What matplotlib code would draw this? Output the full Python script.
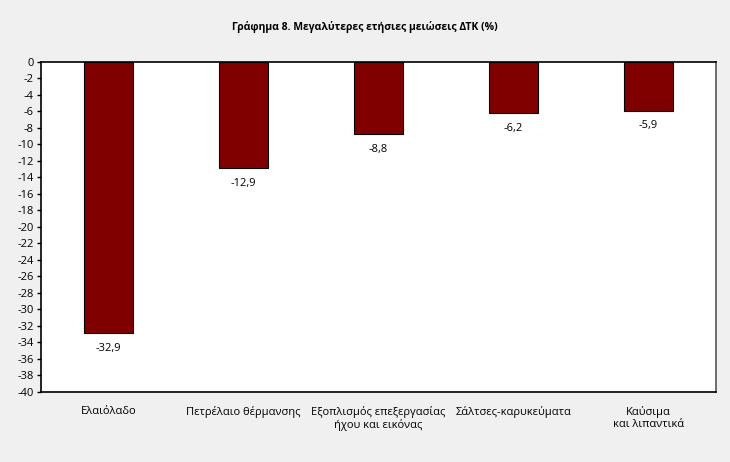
import matplotlib
matplotlib.use("Agg")
import matplotlib.pyplot as plt

plt.rcParams['font.family'] = ['Open Sans', 'DejaVu Sans']

categories = ['Ελαιόλαδο', 'Πετρέλαιο θέρμανσης', 'Εξοπλισμός επεξεργασίας\nήχου και εικόνας',
              'Σάλτσες-καρυκεύματα', 'Καύσιμα\nκαι λιπαντικά']
values = [-32.9, -12.9, -8.8, -6.2, -5.9]
yticks = list(range(0, -41, -2))

fig = plt.figure(figsize=(7.3, 4.62), dpi=100, facecolor='#f0f0f0')
ax = fig.add_axes([0.056, 0.152, 0.925, 0.714])
ax.set_facecolor('white')

x = range(len(categories))
ax.bar(x, values, width=0.36, color='#800000', edgecolor='black', linewidth=0.8, zorder=2)
for i, v in zip(x, values):
    ax.text(i, v - 1.2, f'{v:.1f}'.replace('.', ','), ha='center', va='top', fontsize=8)

ax.set_xlim(-0.5, len(categories) - 0.5)
ax.set_ylim(-40, 0)
ax.set_yticks(yticks)
ax.set_yticklabels([str(t) for t in yticks], fontsize=8)
ax.set_xticks(list(x))
ax.set_xticklabels(categories, fontsize=8)
ax.tick_params(axis='x', length=0, pad=10)
ax.tick_params(axis='y', length=3, width=1, pad=2, direction='out')

for s in ['left', 'bottom', 'top']:
    ax.spines[s].set_color('black')
    ax.spines[s].set_linewidth(1.2)
ax.spines['right'].set_color('#555555')
ax.spines['right'].set_linewidth(1.2)

fig.suptitle('Γράφημα 8. Μεγαλύτερες ετήσιες μειώσεις ΔΤΚ (%)', fontsize=7.5, fontweight='bold', y=0.955)

fig.savefig('out.png', dpi=100, facecolor=fig.get_facecolor())
